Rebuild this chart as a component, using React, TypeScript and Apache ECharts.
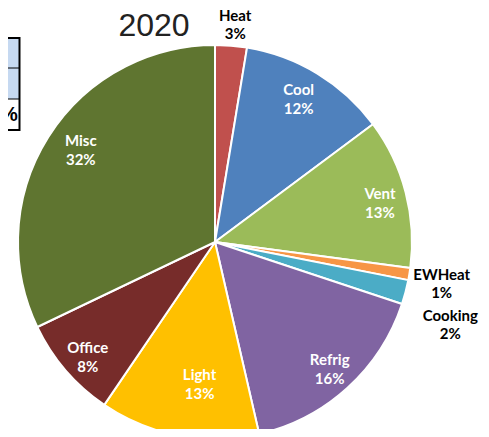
import React, { useEffect, useRef } from "react";
import * as echarts from "echarts";

const categories = ["Heat", "Cool", "Vent", "EWHeat", "Cooking", "Refrig", "Light", "Office", "Misc"];
const shares = [2.6, 12.2, 12.3, 1.0, 2.0, 16.3, 13.1, 8.4, 32.1];
const shownPercent = ["3%", "12%", "13%", "1%", "2%", "16%", "13%", "8%", "32%"];
const colors = ["#C0504D", "#4F81BD", "#9BBB59", "#F79646", "#4BACC6", "#8064A2", "#FFC000", "#772C2A", "#5F7530"];
const outsideNames = ["Heat", "EWHeat", "Cooking"];
const title = "2020";
const tableFragment = "%";

// small nudges (dx, dy) for labels, like the hand-placed labels in the reference
const labelNudge: Record<string, [number, number]> = {
  Heat: [2, 5],
  Cool: [-5, 2],
  Vent: [0, 3],
  Light: [16, -26],
  Office: [2, 3],
  Misc: [10, -2],
  EWHeat: [6, 5],
  Cooking: [19, 25],
};

const FONT = "Lato, 'Liberation Sans', sans-serif";

export default function App() {
  const ref = useRef<HTMLDivElement>(null);
  useEffect(() => {
    if (!ref.current) return;
    const chart = echarts.init(ref.current, undefined, { renderer: "svg" });
    const cx = 215;
    const cy = 242;
    const R = 197;
    const labelFmt = (p: any) => `${p.name}\n${shownPercent[p.dataIndex]}`;
    const nudge = (p: any) => {
      const n = labelNudge[categories[p.dataIndex]];
      return n ? { dx: n[0], dy: n[1] } : {};
    };
    const line = (x1: number, y1: number, x2: number, y2: number, w: number) => ({
      type: "line",
      z: 2,
      shape: { x1, y1, x2, y2 },
      style: { stroke: "#000", lineWidth: w },
    });
    chart.setOption({
      animation: false,
      title: [
        {
          text: title,
          left: 149,
          top: 4,
          textAlign: "center",
          textStyle: { fontFamily: "'Liberation Sans', Arial, sans-serif", fontSize: 32, fontWeight: "normal", color: "#222" },
        },
        {
          text: tableFragment,
          left: 0,
          top: 104,
          padding: 0,
          z: 10,
          textStyle: { fontFamily: "'Liberation Sans', Arial, sans-serif", fontSize: 20, fontWeight: "bold", color: "#000" },
        },
      ],
      graphic: [
        { type: "rect", z: 1, shape: { x: 0, y: 38, width: 20, height: 61 }, style: { fill: "#C6D9F1" } },
        { type: "rect", z: 1, shape: { x: 0, y: 99, width: 20, height: 31 }, style: { fill: "#fff" } },
        line(0, 38, 20, 38, 2),
        line(0, 68, 20, 68, 1),
        line(0, 99, 20, 99, 1),
        line(0, 130, 20, 130, 2),
        line(19.5, 37, 19.5, 131, 2),
      ],
      series: [
        {
          type: "pie",
          center: [cx, cy],
          radius: [0, R],
          startAngle: 90,
          clockwise: true,
          avoidLabelOverlap: false,
          label: { show: false },
          labelLine: { show: false },
          itemStyle: { borderColor: "#fff", borderWidth: 2 },
          emphasis: { disabled: true },
          data: categories.map((c, i) => ({ name: c, value: shares[i], itemStyle: { color: colors[i] } })),
        },
        {
          type: "pie",
          center: [cx, cy],
          radius: [R * 0.7, R],
          startAngle: 90,
          clockwise: true,
          silent: true,
          avoidLabelOverlap: false,
          itemStyle: { color: "rgba(0,0,0,0)" },
          labelLine: { show: false },
          label: {
            show: true,
            position: "inside",
            formatter: labelFmt,
            color: "#fff",
            fontFamily: FONT,
            fontWeight: "bold",
            fontSize: 15,
            lineHeight: 19,
          },
          labelLayout: nudge,
          data: categories.map((c, i) => ({
            name: c,
            value: shares[i],
            label: { show: !outsideNames.includes(c) },
          })),
        },
        {
          type: "pie",
          center: [cx, cy],
          radius: [R, R * 1.24],
          startAngle: 90,
          clockwise: true,
          silent: true,
          avoidLabelOverlap: false,
          itemStyle: { color: "rgba(0,0,0,0)" },
          labelLine: { show: false },
          label: {
            show: true,
            position: "inside",
            formatter: labelFmt,
            color: "#000",
            fontFamily: FONT,
            fontWeight: "bold",
            fontSize: 15,
            lineHeight: 18,
          },
          labelLayout: nudge,
          data: categories.map((c, i) => ({
            name: c,
            value: shares[i],
            label: { show: outsideNames.includes(c) },
          })),
        },
      ],
    });
    return () => chart.dispose();
  }, []);
  return <div ref={ref} style={{ width: 489, height: 437, margin: -8 }} />;
}
